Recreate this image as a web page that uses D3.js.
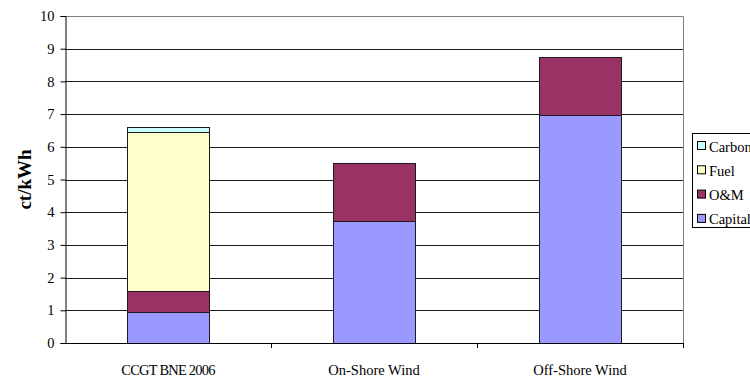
<!DOCTYPE html>
<html>
<head>
<meta charset="utf-8">
<script src="https://cdn.jsdelivr.net/npm/d3@7"></script>
<style>
  html, body { margin: 0; padding: 0; background: #fff; }
  svg { display: block; }
  text { font-family: "Liberation Serif", "Times New Roman", serif; }
</style>
</head>
<body>
<svg id="chart" width="750" height="378"></svg>
<script>
// Generation cost breakdown (ct/kWh) by technology
const categories = ["CCGT BNE 2006", "On-Shore Wind", "Off-Shore Wind"];
const seriesNames = ["Capital", "O&M", "Fuel", "Carbon"];
const capital = [0.95, 3.73, 6.97];
const om      = [0.65, 1.77, 1.79];
const fuel    = [4.85, 0, 0];
const carbon  = [0.15, 0, 0];
const yTicks  = [0, 1, 2, 3, 4, 5, 6, 7, 8, 9, 10];
const yTitle  = "ct/kWh";

const colors = { "Capital": "#9999FF", "O&M": "#993366", "Fuel": "#FFFFCC", "Carbon": "#CCFFFF" };

const rows = categories.map((c, i) => ({
  category: c,
  "Capital": capital[i], "O&M": om[i], "Fuel": fuel[i], "Carbon": carbon[i]
}));

const svg = d3.select("#chart");
const plot = { left: 65, right: 683, top: 16, bottom: 343 };

const x = d3.scaleBand().domain(categories).range([plot.left, plot.right]).paddingInner(0.6).paddingOuter(0.3);
const xBand = d3.scaleBand().domain(categories).range([plot.left, plot.right]);
const y = d3.scaleLinear().domain([0, 10]).range([plot.bottom, plot.top]);

// plot frame (top and right sides)
svg.append("path")
  .attr("d", `M${plot.left},${plot.top + 0.5}H${plot.right + 0.5}V${plot.bottom}`)
  .attr("fill", "none").attr("stroke", "#808080").attr("stroke-width", 1);

// horizontal gridlines
svg.append("g").selectAll("line")
  .data(yTicks.filter(t => t > 0 && t < 10))
  .join("line")
  .attr("x1", plot.left).attr("x2", plot.right)
  .attr("y1", d => Math.round(y(d)) + 0.5).attr("y2", d => Math.round(y(d)) + 0.5)
  .attr("stroke", "#1a1a1a").attr("stroke-width", 1);

// stacked bars
const stack = d3.stack().keys(seriesNames);
const layers = stack(rows);
svg.append("g").selectAll("g")
  .data(layers)
  .join("g")
  .attr("fill", d => colors[d.key])
  .selectAll("rect")
  .data(d => d.filter(s => s[1] - s[0] > 0))
  .join("rect")
  .attr("x", d => Math.round(x(d.data.category)) + 0.5)
  .attr("width", Math.round(x.bandwidth()))
  .attr("y", d => Math.round(y(d[1])) + 0.5)
  .attr("height", d => Math.round(y(d[0])) - Math.round(y(d[1])))
  .attr("stroke", "#1a1a1a").attr("stroke-width", 1);

// y axis
const yAxis = d3.axisLeft(y).tickValues(yTicks).tickSize(5).tickPadding(6).tickFormat(d3.format("d"));
const gy = svg.append("g").attr("transform", `translate(${plot.left + 0.5},0)`).call(yAxis);
gy.select(".domain").attr("stroke", "#000");
gy.selectAll(".tick line").attr("stroke", "#000");
gy.selectAll(".tick text").attr("font-size", 14.5).attr("fill", "#000")
  .attr("font-family", "'Liberation Serif', 'Times New Roman', serif");

// x axis with ticks on category boundaries
svg.append("line")
  .attr("x1", plot.left).attr("x2", plot.right + 1)
  .attr("y1", plot.bottom + 0.5).attr("y2", plot.bottom + 0.5)
  .attr("stroke", "#000");
const boundaries = categories.map(c => xBand(c) + xBand.bandwidth());
svg.append("g").selectAll("line")
  .data(boundaries)
  .join("line")
  .attr("x1", d => Math.round(d) + 0.5).attr("x2", d => Math.round(d) + 0.5)
  .attr("y1", plot.bottom).attr("y2", plot.bottom + 5)
  .attr("stroke", "#000");
svg.append("g").selectAll("text")
  .data(categories)
  .join("text")
  .attr("x", d => xBand(d) + xBand.bandwidth() / 2)
  .attr("y", 375)
  .attr("text-anchor", "middle")
  .attr("font-size", 14.5)
  .attr("letter-spacing", (d, i) => i === 0 ? -0.8 : 0)
  .text(d => d);

// y axis title
svg.append("text")
  .attr("transform", `translate(31,${(plot.top + plot.bottom) / 2}) rotate(-90)`)
  .attr("text-anchor", "middle")
  .attr("font-size", 19).attr("font-weight", "bold")
  .text(yTitle);

// legend (top series first)
const legend = svg.append("g").attr("transform", "translate(692,133)");
legend.append("rect")
  .attr("x", 0.5).attr("y", 0.5).attr("width", 80).attr("height", 94)
  .attr("fill", "#fff").attr("stroke", "#000");
const legendOrder = seriesNames.slice().reverse();
const li = legend.selectAll("g.item")
  .data(legendOrder)
  .join("g").attr("class", "item")
  .attr("transform", (d, i) => `translate(5,${13 + i * 24.3})`);
li.append("rect")
  .attr("x", 0.5).attr("y", -4.5).attr("width", 8).attr("height", 8)
  .attr("fill", d => colors[d]).attr("stroke", "#000");
li.append("text")
  .attr("x", 12).attr("y", 5.5)
  .attr("font-size", 14.5)
  .text(d => d);
</script>
</body>
</html>
